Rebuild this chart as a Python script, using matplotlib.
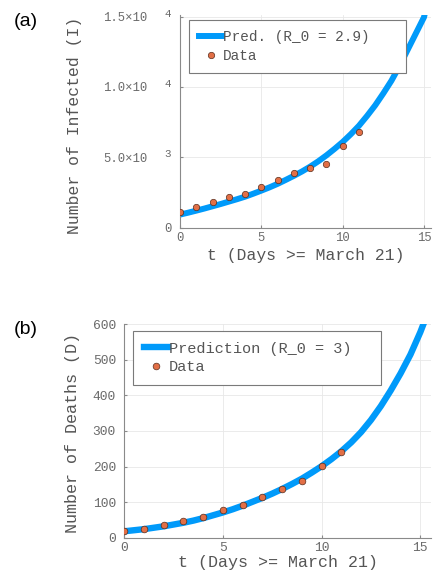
import matplotlib
matplotlib.use("Agg")
import matplotlib.pyplot as plt
from matplotlib.transforms import offset_copy

# values (prediction curves every half day)
t_pred = [0, 0.5, 1, 1.5, 2, 2.5, 3, 3.5, 4, 4.5, 5, 5.5, 6, 6.5, 7, 7.5, 8,
          8.5, 9, 9.5, 10, 10.5, 11, 11.5, 12, 12.5, 13, 13.5, 14, 14.5, 15, 15.5]
pred_infected = [950, 1085, 1230, 1380, 1540, 1700, 1870, 2040, 2220, 2430,
                 2650, 2880, 3130, 3410, 3700, 4010, 4350, 4730, 5150, 5610,
                 6100, 6650, 7250, 7950, 8700, 9550, 10450, 11500, 12650, 13800,
                 14950, 17500]
pred_deaths = [18, 21, 24, 28, 32, 37, 42, 48, 55, 63, 71, 80, 90, 101, 112,
               124, 137, 151, 166, 183, 201, 221, 243, 268, 297, 331, 370, 414,
               462, 515, 578, 650]

obs_days = list(range(12))
obs_infected = [1110, 1510, 1870, 2180, 2410, 2880, 3380, 3880, 4230, 4540, 5790, 6790]
obs_deaths = [20, 25, 35, 47, 58, 77, 92, 114, 136, 159, 202, 241]

x_ticks = [0, 5, 10, 15]
inf_ticks = [0, 5000, 10000, 15000]
inf_mantissa = ["", "5.0\u00d710", "1.0\u00d710", "1.5\u00d710"]
inf_column = ["0", "3", "4", "4"]   # zero label and the exponents, next to the axis
inf_raise = [0, 4, 4, 4]
death_ticks = [0, 100, 200, 300, 400, 500, 600]

LINE = "#009AFA"
DOT = "#E26F46"
GRAY = "#8a8a8a"
TXT = "#555555"
TICK = "#6a6a6a"

plt.rcParams['font.family'] = ['Liberation Mono', 'DejaVu Sans Mono']

fig = plt.figure(figsize=(4.35, 5.75), dpi=100)


def style(ax, ticksize, ypad=6):
    ax.spines[['top', 'right']].set_visible(False)
    for s in ['left', 'bottom']:
        ax.spines[s].set_color(GRAY)
        ax.spines[s].set_linewidth(0.8)
    ax.grid(True, color='#e8e8e8', lw=0.6)
    ax.set_axisbelow(True)
    ax.tick_params(direction='in', length=2.5, width=0.8, color=GRAY,
                   labelcolor=TICK, labelsize=ticksize)
    ax.tick_params(axis='y', pad=ypad)
    ax.tick_params(axis='x', pad=3)


def add_legend(ax, anchor, size):
    leg = ax.legend(loc='upper left', bbox_to_anchor=anchor, borderaxespad=0,
                    fancybox=False, edgecolor='#7a7a7a', framealpha=1,
                    prop={'size': size}, handlelength=1.55, handletextpad=0.1,
                    borderpad=0.72, labelspacing=0.3)
    leg.get_frame().set_linewidth(0.8)
    for txt in leg.get_texts():
        txt.set_color(TXT)


# (a) infected
ax1 = fig.add_axes([0.4138, 0.6035, 0.5770, 0.3704])
ax1.plot(t_pred, pred_infected, color=LINE, lw=4.3, label="Pred. (R_0 = 2.9)   ")
ax1.plot(obs_days, obs_infected, 'o', color=DOT, mec='#5a2e1e', mew=0.5,
         ms=4.6, label="Data", zorder=3)
ax1.set_xlim(0, 15.43)
ax1.set_ylim(0, 15106)
ax1.set_xticks(x_ticks)
ax1.set_yticks(inf_ticks)
ax1.set_yticklabels(inf_mantissa)
style(ax1, 8.8, ypad=23.5)
for val, txt, up in zip(inf_ticks, inf_column, inf_raise):
    tr = offset_copy(ax1.get_yaxis_transform(), fig=fig, x=-12, y=up, units='dots')
    ax1.text(0, val, txt, transform=tr, ha='center', va='center_baseline',
             fontsize=7.8 if up else 8.8, color=TICK, clip_on=False)
ax1.set_ylabel("Number of Infected (I)", fontsize=11.8, color=TXT)
ax1.yaxis.set_label_coords(-0.39, 0.484)
ax1.set_xlabel("t (Days >= March 21)", fontsize=11.8, color=TXT, va='top')
ax1.xaxis.set_label_coords(0.5, -0.096)
add_legend(ax1, (0.036, 0.977), 10.4)

# (b) deaths
ax2 = fig.add_axes([0.2857, 0.0649, 0.7051, 0.3711])
ax2.plot(t_pred, pred_deaths, color=LINE, lw=4.6, label="Prediction (R_0 = 3)  ")
ax2.plot(obs_days, obs_deaths, 'o', color=DOT, mec='#5a2e1e', mew=0.5,
         ms=4.8, label="Data", zorder=3)
ax2.set_xlim(0, 15.54)
ax2.set_ylim(0, 600)
ax2.set_xticks(x_ticks)
ax2.set_yticks(death_ticks)
style(ax2, 9.4)
ax2.set_ylabel("Number of Deaths (D)", fontsize=12.1, color=TXT)
ax2.yaxis.set_label_coords(-0.144, 0.49)
ax2.set_xlabel("t (Days >= March 21)", fontsize=12, color=TXT, va='top')
ax2.xaxis.set_label_coords(0.5, -0.081)
add_legend(ax2, (0.028, 0.970), 11)

fig.text(14 / 435, 1 - 21.5 / 575, "(a)", family='Liberation Sans', fontsize=14,
         va='center', ha='left')
fig.text(14 / 435, 1 - 329 / 575, "(b)", family='Liberation Sans', fontsize=14,
         va='center', ha='left')

fig.savefig("out.png", dpi=100)
